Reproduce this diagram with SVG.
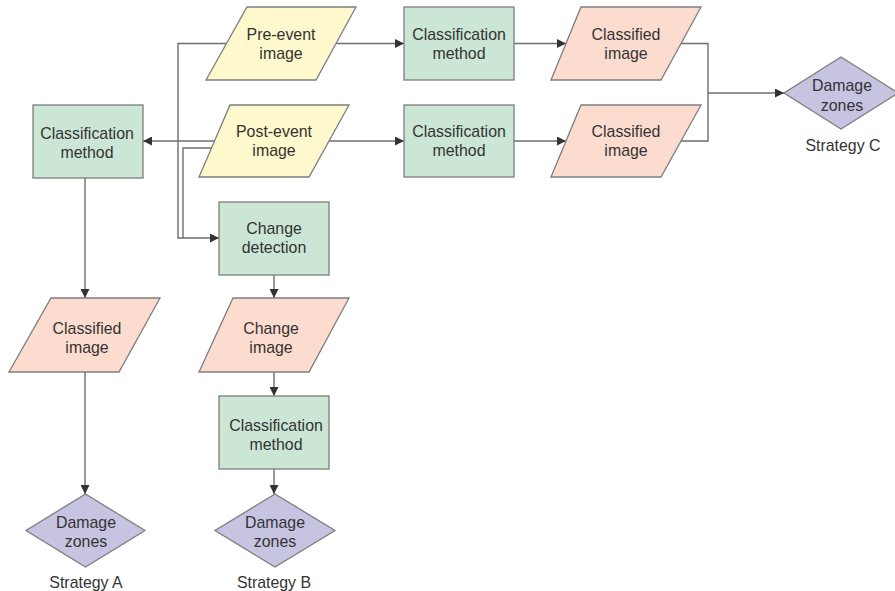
<svg xmlns="http://www.w3.org/2000/svg" width="895" height="591" viewBox="0 0 895 591">
<defs>
<style>
.box{fill:#cce6d5;stroke:#7d7d7d;stroke-width:1.3}
.inp{fill:#fdf9cc;stroke:#7d7d7d;stroke-width:1.3}
.out{fill:#fcdccf;stroke:#7d7d7d;stroke-width:1.3}
.dz{fill:#c7c4e2;stroke:#7d7d7d;stroke-width:1.3}
.t{font-family:"Liberation Sans",Arial,sans-serif;font-size:15.9px;fill:#333;text-anchor:middle}
.c{fill:none;stroke:#6e6e6e;stroke-width:1.4}
</style>
<marker id="ah" viewBox="0 0 10 10" refX="10" refY="5" markerWidth="9" markerHeight="9" markerUnits="userSpaceOnUse" orient="auto">
<path d="M0,0 L10,5 L0,10 z" fill="#333"/>
</marker>
</defs>
<rect width="895" height="591" fill="#fff"/>
<g id="connectors">
<path class="c" d="M336,43.5 H404" marker-end="url(#ah)"/>
<path class="c" d="M329,141 H404" marker-end="url(#ah)"/>
<path class="c" d="M514,43.5 H566" marker-end="url(#ah)"/>
<path class="c" d="M514,141 H566" marker-end="url(#ah)"/>
<path class="c" d="M681,43.5 H708 V141 H681"/>
<path class="c" d="M708,93 H784" marker-end="url(#ah)"/>
<path class="c" d="M226,43.5 H178 V238 H219" marker-end="url(#ah)"/>
<path class="c" d="M214,141 H143" marker-end="url(#ah)"/>
<path class="c" d="M212,148 H183 V238"/>
<path class="c" d="M85,178 V298" marker-end="url(#ah)"/>
<path class="c" d="M85,372 V494" marker-end="url(#ah)"/>
<path class="c" d="M274,275 V298" marker-end="url(#ah)"/>
<path class="c" d="M274,372 V396" marker-end="url(#ah)"/>
<path class="c" d="M274,469 V494" marker-end="url(#ah)"/>
</g>
<g id="pre-event">
<polygon class="inp" points="247,7 356,7 316,80 206,80"/>
<text class="t" x="281" y="40">Pre-event</text>
<text class="t" x="281" y="59">image</text>
</g>
<g id="post-event">
<polygon class="inp" points="230,105 349,105 309,177 199,177"/>
<text class="t" x="274" y="137">Post-event</text>
<text class="t" x="274" y="156">image</text>
</g>
<g id="class-top">
<rect class="box" x="404" y="7" width="110" height="73"/>
<text class="t" x="459" y="40">Classification</text>
<text class="t" x="459" y="59">method</text>
</g>
<g id="class-mid">
<rect class="box" x="404" y="105" width="110" height="72"/>
<text class="t" x="459" y="137">Classification</text>
<text class="t" x="459" y="156">method</text>
</g>
<g id="classified-top">
<polygon class="out" points="581,7 701,7 661,80 551,80"/>
<text class="t" x="626" y="40">Classified</text>
<text class="t" x="626" y="59">image</text>
</g>
<g id="classified-mid">
<polygon class="out" points="581,105 701,105 661,177 551,177"/>
<text class="t" x="626" y="137">Classified</text>
<text class="t" x="626" y="156">image</text>
</g>
<g id="damage-c">
<polygon class="dz" points="841,57 898,93 841,129 784,93"/>
<text class="t" x="842" y="91">Damage</text>
<text class="t" x="842" y="111">zones</text>
<text class="t" x="843" y="151">Strategy C</text>
</g>
<g id="class-left">
<rect class="box" x="33" y="105" width="110" height="73"/>
<text class="t" x="87" y="139">Classification</text>
<text class="t" x="87" y="158">method</text>
</g>
<g id="change-detection">
<rect class="box" x="219" y="202" width="110" height="73"/>
<text class="t" x="274" y="234">Change</text>
<text class="t" x="274" y="253">detection</text>
</g>
<g id="classified-a">
<polygon class="out" points="51,298 160,298 119,372 9,372"/>
<text class="t" x="87" y="334">Classified</text>
<text class="t" x="87" y="353">image</text>
</g>
<g id="change-image">
<polygon class="out" points="233,298 349,298 309,372 199,372"/>
<text class="t" x="271" y="334">Change</text>
<text class="t" x="271" y="353">image</text>
</g>
<g id="class-b">
<rect class="box" x="219" y="396" width="110" height="73"/>
<text class="t" x="276" y="431">Classification</text>
<text class="t" x="276" y="450">method</text>
</g>
<g id="damage-a">
<polygon class="dz" points="85.5,494 145,530.5 85.5,567 26,530.5"/>
<text class="t" x="86" y="528">Damage</text>
<text class="t" x="86" y="547">zones</text>
<text class="t" x="86" y="588">Strategy A</text>
</g>
<g id="damage-b">
<polygon class="dz" points="275,494 335,530.5 275,567 215,530.5"/>
<text class="t" x="275" y="528">Damage</text>
<text class="t" x="275" y="547">zones</text>
<text class="t" x="274" y="588">Strategy B</text>
</g>
</svg>
